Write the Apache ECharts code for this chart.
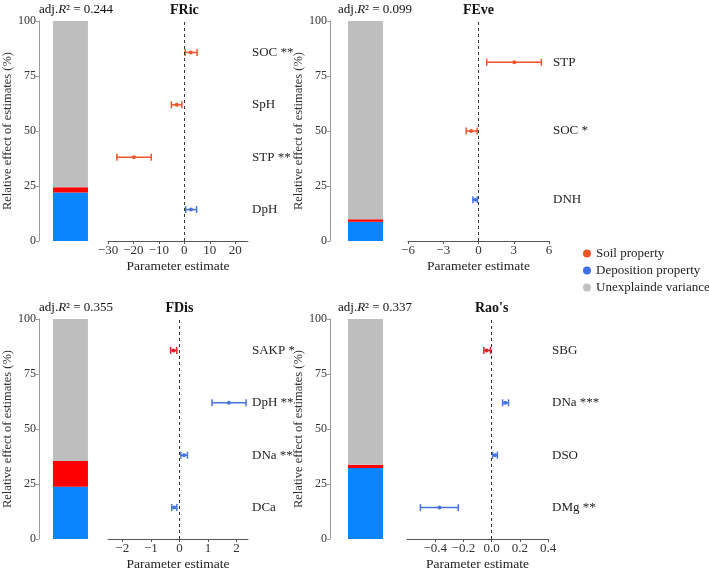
<!DOCTYPE html>
<html><head><meta charset="utf-8">
<script src="https://cdn.jsdelivr.net/npm/echarts@6/dist/echarts.min.js"></script>
<style>html,body{margin:0;padding:0;background:#fff}#c{width:709px;height:574px}</style>
</head><body><div id="c"></div>
<script>
// ---- data ----
const panelTitles = ['FRic', 'FEve', 'FDis', "Rao's"];
const adjR2 = ['0.244', '0.099', '0.355', '0.337'];

// stacked bars (relative effect, %)
const barDeposition = [22.0, 8.7, 23.8, 32.3];
const barSoil = [2.4, 1.2, 11.7, 1.4];
const barUnexplained = [75.6, 90.1, 64.5, 66.3];

// forest plots (top to bottom)
const fricCats = ['SOC **', 'SpH', 'STP **', 'DpH'];
const fricType = ['soil', 'soil', 'soil', 'dep'];
const fricEst = [2.5, -3.0, -19.8, 2.6];
const fricLo = [0.3, -5.1, -26.5, 0.5];
const fricHi = [5.0, -1.0, -13.0, 4.8];

const feveCats = ['STP', 'SOC *', 'DNH'];
const feveType = ['soil', 'soil', 'dep'];
const feveEst = [3.05, -0.62, -0.28];
const feveLo = [0.7, -1.05, -0.48];
const feveHi = [5.35, -0.12, -0.1];

const fdisCats = ['SAKP *', 'DpH **', 'DNa **', 'DCa'];
const fdisType = ['soil', 'dep', 'dep', 'dep'];
const fdisEst = [-0.2, 1.73, 0.16, -0.18];
const fdisLo = [-0.31, 1.14, 0.05, -0.27];
const fdisHi = [-0.09, 2.33, 0.28, -0.09];

const raoCats = ['SBG', 'DNa ***', 'DSO', 'DMg **'];
const raoType = ['soil', 'dep', 'dep', 'dep'];
const raoEst = [-0.035, 0.097, 0.024, -0.37];
const raoLo = [-0.055, 0.078, 0.007, -0.505];
const raoHi = [-0.008, 0.12, 0.041, -0.236];

// x-axis settings per forest panel
const xMin = [-30, -6, -2.5, -0.6];
const xMax = [25, 6, 2.4, 0.4];
const xTicks = [[-30, -20, -10, 0, 10, 20], [-6, -3, 0, 3, 6], [-2, -1, 0, 1, 2], [-0.4, -0.2, 0, 0.2, 0.4]];
const xDecimals = [0, 0, 0, 1];

// ---- styling ----
const FONT = '"Liberation Serif", "DejaVu Serif", serif';
const soilColors = ['#f0522a', '#f0522a', '#e8202a', '#e8202a'];
const depColor = '#4573e0';
const barBlue = '#0a84ff', barRed = '#ff0000', barGrey = '#bebebe';

const forests = [
  {cats: fricCats, type: fricType, est: fricEst, lo: fricLo, hi: fricHi},
  {cats: feveCats, type: feveType, est: feveEst, lo: feveLo, hi: feveHi},
  {cats: fdisCats, type: fdisType, est: fdisEst, lo: fdisLo, hi: fdisHi},
  {cats: raoCats, type: raoType, est: raoEst, lo: raoLo, hi: raoHi}
];

// layout: [barLeft, forestLeft, forestWidth, top]
const layout = [
  [31, 108, 140, 21],
  [330, 408, 141, 21],
  [31, 108, 140, 319],
  [330, 407, 141, 319]
];
const H = 220;

const grid = [], xAxis = [], yAxis = [], series = [], graphic = [];

function fmtNum(v, d) { return v.toFixed(d).replace('-', '\u2212'); }

function renderErr(color) {
  return function (params, api) {
    const est = api.value(0), lo = api.value(1), hi = api.value(2), y = api.value(3);
    const pL = api.coord([lo, y]), pH = api.coord([hi, y]), pE = api.coord([est, y]);
    const st = {stroke: color, lineWidth: 1.5};
    return {type: 'group', children: [
      {type: 'line', shape: {x1: pL[0], y1: pL[1], x2: pH[0], y2: pH[1]}, style: st},
      {type: 'line', shape: {x1: pL[0], y1: pL[1] - 3.5, x2: pL[0], y2: pL[1] + 3.5}, style: st},
      {type: 'line', shape: {x1: pH[0], y1: pH[1] - 3.5, x2: pH[0], y2: pH[1] + 3.5}, style: st},
      {type: 'circle', shape: {cx: pE[0], cy: pE[1], r: 2}, style: {fill: color}}
    ]};
  };
}

for (let p = 0; p < 4; p++) {
  const [bl, fl, fw, top] = layout[p];
  const gb = grid.length;
  grid.push({left: bl, top: top, width: 71, height: H});
  xAxis.push({gridIndex: gb, type: 'category', data: [''], show: false});
  yAxis.push({
    gridIndex: gb, type: 'value', min: 0, max: 100, interval: 25,
    name: 'Relative effect of estimates (%)', nameLocation: 'middle', nameGap: 14, nameRotate: 90,
    nameTextStyle: {fontFamily: FONT, fontSize: 12.5, color: '#333'},
    axisLine: {show: true, lineStyle: {color: '#9a9a9a'}},
    axisTick: {show: true, length: 3, lineStyle: {color: '#9a9a9a'}},
    axisLabel: {fontFamily: FONT, fontSize: 12, color: '#333', margin: 3},
    splitLine: {show: false}
  });
  const bs = {type: 'bar', xAxisIndex: gb, yAxisIndex: gb, stack: 'b' + p, barWidth: 35, silent: true};
  series.push(Object.assign({}, bs, {name: 'Deposition property', data: [barDeposition[p]], itemStyle: {color: barBlue}}));
  series.push(Object.assign({}, bs, {name: 'Soil property', data: [barSoil[p]], itemStyle: {color: barRed}}));
  series.push(Object.assign({}, bs, {name: 'Unexplainde variance', data: [barUnexplained[p]], itemStyle: {color: barGrey}}));

  // forest
  const gf = grid.length;
  const f = forests[p];
  const n = f.cats.length;
  grid.push({left: fl, top: top, width: fw, height: H});
  xAxis.push({
    gridIndex: gf, type: 'value', min: xMin[p], max: xMax[p],
    name: 'Parameter estimate', nameLocation: 'middle', nameGap: 18,
    nameTextStyle: {fontFamily: FONT, fontSize: 13.5, color: '#222'},
    axisLine: {show: true, onZero: false, lineStyle: {color: '#555'}},
    axisTick: {show: true, length: 3, customValues: xTicks[p], lineStyle: {color: '#555'}},
    axisLabel: {fontFamily: FONT, fontSize: 13, color: '#333', margin: 3, customValues: xTicks[p],
      formatter: (v) => fmtNum(v, xDecimals[p])},
    splitLine: {show: false}
  });
  yAxis.push({
    gridIndex: gf, type: 'value', min: 0.4, max: n + 0.6, position: 'right',
    axisLine: {show: false}, axisTick: {show: false}, splitLine: {show: false},
    axisLabel: {fontFamily: FONT, fontSize: 13, color: '#222', margin: 4, customValues: f.cats.map((c, i) => n - i),
      formatter: (v) => f.cats[n - Math.round(v)]}
  });
  ['soil', 'dep'].forEach((t, k) => {
    const data = [];
    for (let i = 0; i < n; i++) if (f.type[i] === t) data.push([f.est[i], f.lo[i], f.hi[i], n - i]);
    const color = t === 'soil' ? soilColors[p] : depColor;
    const s = {
      type: 'custom', name: t === 'soil' ? 'Soil property' : 'Deposition property',
      xAxisIndex: gf, yAxisIndex: gf, data: data, renderItem: renderErr(color),
      itemStyle: {color: color}, silent: true, clip: false,
      encode: {x: [0, 1, 2], y: 3}
    };
    if (k === 0) {
      s.markLine = {silent: true, symbol: ['none', 'none'], label: {show: false},
        lineStyle: {type: [3, 3], color: '#333', width: 1}, data: [{xAxis: 0}], animation: false};
    }
    series.push(s);
  });

  // titles
  const ty = top - 11;
  graphic.push({type: 'text', x: fl + fw * (0 - xMin[p]) / (xMax[p] - xMin[p]), y: ty,
    style: {text: panelTitles[p], align: 'center', verticalAlign: 'middle',
      font: 'bold 14px ' + FONT, fill: '#111'}});
  graphic.push({type: 'text', x: bl + 8, y: ty,
    style: {text: '{a|adj.}{i|R}{a|\u00b2 = ' + adjR2[p] + '}', verticalAlign: 'middle',
      rich: {a: {font: '13px ' + FONT, fill: '#111'}, i: {font: 'italic 13px ' + FONT, fill: '#111'}}}});
}

const chart = echarts.init(document.getElementById('c'));
chart.setOption({
  animation: false,
  backgroundColor: '#fff',
  grid, xAxis, yAxis, series, graphic,
  legend: {
    orient: 'vertical', left: 578, top: 242, itemWidth: 8, itemHeight: 8, itemGap: 4,
    icon: 'circle', selectedMode: false,
    textStyle: {fontFamily: FONT, fontSize: 13, color: '#222'},
    data: [
      {name: 'Soil property', itemStyle: {color: '#f0522a'}},
      {name: 'Deposition property', itemStyle: {color: '#3f6fe3'}},
      {name: 'Unexplainde variance', itemStyle: {color: '#c0c0c0'}}
    ]
  }
});
</script></body></html>
